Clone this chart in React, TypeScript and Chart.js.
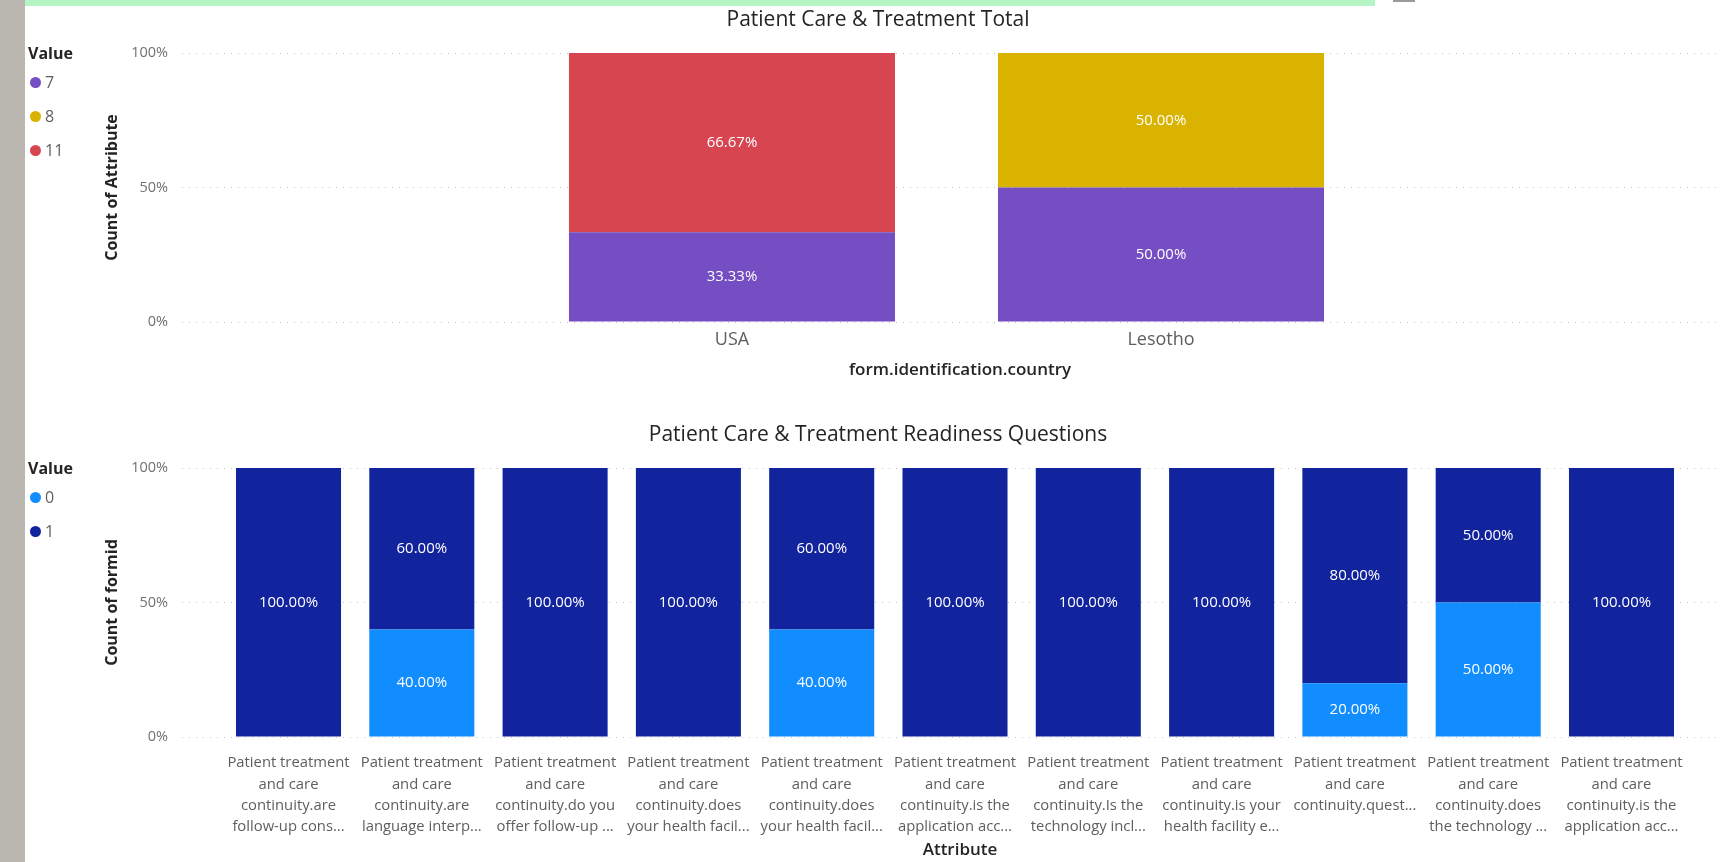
import React, { useEffect, useRef } from 'react';
import { Chart, registerables } from 'chart.js';

Chart.register(...registerables);

// ---------- DATA ----------
const countries = ['USA', 'Lesotho'];
const topKeys = ['7', '8', '11'];
const pctValue7 = [33.33, 50];
const pctValue8 = [0, 50];
const pctValue11 = [66.67, 0];

const attributeLabels: string[][] = [
  ['Patient treatment', 'and care', 'continuity.are', 'follow-up cons...'],
  ['Patient treatment', 'and care', 'continuity.are', 'language interp...'],
  ['Patient treatment', 'and care', 'continuity.do you', 'offer follow-up ...'],
  ['Patient treatment', 'and care', 'continuity.does', 'your health facil...'],
  ['Patient treatment', 'and care', 'continuity.does', 'your health facil...'],
  ['Patient treatment', 'and care', 'continuity.is the', 'application acc...'],
  ['Patient treatment', 'and care', 'continuity.Is the', 'technology incl...'],
  ['Patient treatment', 'and care', 'continuity.is your', 'health facility e...'],
  ['Patient treatment', 'and care', 'continuity.quest...'],
  ['Patient treatment', 'and care', 'continuity.does', 'the technology ...'],
  ['Patient treatment', 'and care', 'continuity.is the', 'application acc...'],
];
const bottomKeys = ['0', '1'];
const pctValue0 = [0, 40, 0, 0, 40, 0, 0, 0, 20, 50, 0];
const pctValue1 = [100, 60, 100, 100, 60, 100, 100, 100, 80, 50, 100];

const yTickValues = [0, 50, 100];

// ---------- STYLE ----------
const FONT = '"Open Sans", "Noto Sans", sans-serif';
const topColors = ['#744EC2', '#D9B300', '#D64550'];
const bottomColors = ['#118DFF', '#12239E'];

const segmentLabels = {
  id: 'segmentLabels',
  afterDatasetsDraw(chart: any) {
    const ctx = chart.ctx;
    ctx.save();
    ctx.fillStyle = '#ffffff';
    ctx.font = `15px ${FONT}`;
    ctx.textAlign = 'center';
    ctx.textBaseline = 'middle';
    chart.data.datasets.forEach((ds: any, i: number) => {
      const meta = chart.getDatasetMeta(i);
      meta.data.forEach((el: any, j: number) => {
        const v = ds.data[j].y;
        if (!v) return;
        const p = el.getProps(['x', 'y', 'base'], true);
        ctx.fillText(v.toFixed(2) + '%', p.x, (p.y + p.base) / 2);
      });
    });
    ctx.restore();
  },
};

type PanelProps = {
  top: number;
  height: number;
  title: string;
  titlePadTop: number;
  titlePadBottom: number;
  labels: (string | string[])[];
  keys: string[];
  values: number[][];
  colors: string[];
  xMin: number;
  xMax: number;
  barPct: number;
  xTickFont: number;
  xTickLineHeight: string;
  xTickPad: number;
  xTitle: string;
  xHeight: number;
  padBottom: number;
  yTitle: string;
};

const CANVAS_LEFT = 18;
const CANVAS_WIDTH = 1720;
const Y_WIDTH = 164;

function BarPanel(p: PanelProps) {
  const ref = useRef<HTMLCanvasElement>(null);
  useEffect(() => {
    const datasets = p.keys.map((k, si) => ({
      label: k,
      data: p.values[si].map((v, i) => ({ x: i, y: v || null })),
      backgroundColor: p.colors[si],
      borderWidth: 0,
      stack: 's',
      barPercentage: p.barPct,
      categoryPercentage: 1,
    }));
    const chart = new Chart(ref.current as HTMLCanvasElement, {
      type: 'bar',
      data: { datasets } as any,
      options: {
        responsive: false,
        animation: false,
        layout: { padding: { left: 0, right: 0, top: 0, bottom: p.padBottom } },
        plugins: {
          legend: { display: false },
          tooltip: { enabled: false },
          title: {
            display: true,
            text: p.title,
            color: '#252423',
            font: { family: FONT, size: 21, weight: 'normal', lineHeight: 1.2 },
            padding: { top: p.titlePadTop, bottom: p.titlePadBottom },
          },
        },
        scales: {
          x: {
            type: 'linear',
            min: p.xMin,
            max: p.xMax,
            offset: false,
            bounds: 'data',
            grid: { display: false, drawTicks: false, offset: false },
            border: { display: false },
            afterBuildTicks: (s: any) => {
              s.ticks = p.labels.map((_, i) => ({ value: i }));
            },
            afterFit: (s: any) => {
              s.height = p.xHeight;
            },
            ticks: {
              autoSkip: false,
              maxRotation: 0,
              minRotation: 0,
              padding: p.xTickPad,
              color: '#605E5C',
              font: { family: FONT, size: p.xTickFont, lineHeight: p.xTickLineHeight },
              callback: (v: any) => p.labels[v],
            },
            title: {
              display: true,
              text: p.xTitle,
              color: '#252423',
              font: { family: FONT, size: 17, weight: '600', lineHeight: 1.2 },
              padding: 0,
            },
          },
          y: {
            stacked: true,
            min: 0,
            max: 100,
            afterBuildTicks: (s: any) => {
              s.ticks = yTickValues.map((v) => ({ value: v }));
            },
            afterFit: (s: any) => {
              s.width = Y_WIDTH;
            },
            grid: { color: '#C8C6C4', lineWidth: 1, drawTicks: false },
            border: { display: false, dash: [1, 6] },
            ticks: {
              padding: 14,
              color: '#707070',
              font: { family: FONT, size: 14.5 },
              callback: (v: any) => v + '%',
            },
            title: {
              display: true,
              text: p.yTitle,
              color: '#252423',
              font: { family: FONT, size: 16, weight: 'bold', lineHeight: 1.2 },
              padding: { top: 94 - 9.6, bottom: 0 },
            },
          },
        },
      } as any,
      plugins: [segmentLabels],
    });
    return () => chart.destroy();
  }, []);
  return (
    <canvas
      ref={ref}
      width={CANVAS_WIDTH}
      height={p.height}
      style={{ position: 'absolute', left: CANVAS_LEFT, top: p.top, width: CANVAS_WIDTH, height: p.height }}
    />
  );
}

function Legend(props: { top: number; keys: string[]; colors: string[] }) {
  return (
    <div style={{ position: 'absolute', left: 28, top: props.top, fontFamily: FONT }}>
      <div style={{ fontWeight: 'bold', fontSize: 16, color: '#252423', height: 22, lineHeight: '22px' }}>Value</div>
      {props.keys.map((k, i) => (
        <div key={k} style={{ display: 'flex', alignItems: 'center', height: 34, marginTop: i === 0 ? 1 : 0 }}>
          <span
            style={{
              display: 'inline-block',
              width: 11,
              height: 11,
              borderRadius: '50%',
              background: props.colors[i],
              marginLeft: 2,
              marginRight: 4,
            }}
          />
          <span style={{ fontSize: 16, color: '#605E5C' }}>{k}</span>
        </div>
      ))}
    </div>
  );
}

export default function App() {
  return (
    <div
      style={{
        position: 'fixed',
        left: 0,
        top: 0,
        width: 1722,
        height: 862,
        overflow: 'hidden',
        background: '#ffffff',
      }}
    >
      <div style={{ position: 'absolute', left: 0, top: 0, width: 25, height: 862, background: '#BAB7B1' }} />
      <div style={{ position: 'absolute', left: 25, top: 0, width: 1350, height: 6, background: '#B4F4C5' }} />
      <div style={{ position: 'absolute', left: 1393, top: 0, width: 22, height: 2, background: '#9a9a9a' }} />

      <BarPanel
        top={0}
        height={400}
        title="Patient Care & Treatment Total"
        titlePadTop={7.4}
        titlePadBottom={20.4}
        labels={countries}
        keys={topKeys}
        values={[pctValue7, pctValue8, pctValue11]}
        colors={topColors}
        xMin={-1.282}
        xMax={2.345}
        barPct={0.76}
        xTickFont={18}
        xTickLineHeight="21.6px"
        xTickPad={7.2}
        xTitle="form.identification.country"
        xHeight={58.2}
        padBottom={19.8}
        yTitle="Count of Attribute"
      />
      <Legend top={42} keys={topKeys} colors={topColors} />

      <BarPanel
        top={400}
        height={462}
        title="Patient Care & Treatment Readiness Questions"
        titlePadTop={22.4}
        titlePadBottom={20.4}
        labels={attributeLabels}
        keys={bottomKeys}
        values={[pctValue0, pctValue1]}
        colors={bottomColors}
        xMin={-0.799}
        xMax={10.874}
        barPct={0.788}
        xTickFont={14.8}
        xTickLineHeight="21.3px"
        xTickPad={15.35}
        xTitle="Attribute"
        xHeight={123.2}
        padBottom={1.8}
        yTitle="Count of formid"
      />
      <Legend top={457} keys={bottomKeys} colors={bottomColors} />
    </div>
  );
}
